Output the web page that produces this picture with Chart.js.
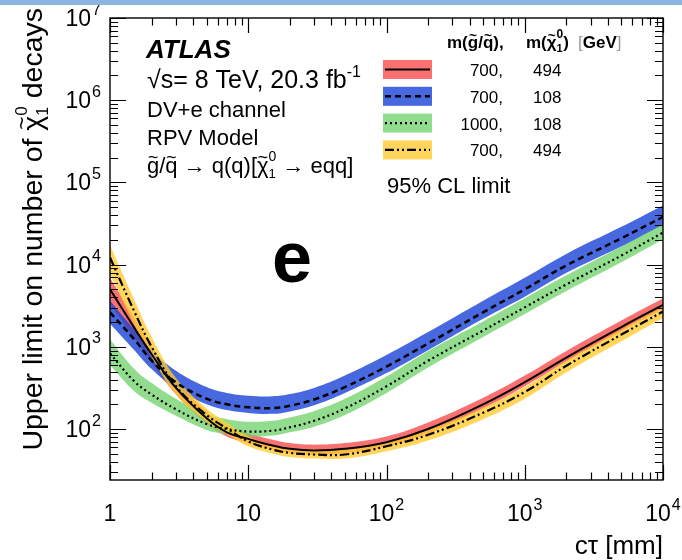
<!DOCTYPE html>
<html>
<head>
<meta charset="utf-8">
<script src="https://cdn.jsdelivr.net/npm/chart.js@4.4.0/dist/chart.umd.min.js"></script>
<style>
  html, body { margin: 0; padding: 0; background: #fff; }
  #wrap { position: relative; width: 682px; height: 560px; overflow: hidden; }
  #topbar { position: absolute; left: 0; top: 0; width: 682px; height: 5px; background: #8db3e2; }
  #chart { position: absolute; left: 0; top: 0; }
</style>
</head>
<body>
<div id="wrap">
  <canvas id="chart" width="682" height="560"></canvas>
  <div id="topbar"></div>
</div>
<script>
// proper decay length c*tau [mm]
const ctau = [1, 1.5, 2, 3, 5, 7, 10, 15, 20, 30, 50, 100, 200, 500, 1000, 2000, 5000, 10000];

// m(g/q) = 700, m(chi) = 494  (red band, solid line)
const lim700_494 = [5010, 1700, 813, 316, 135, 91.2, 75.9, 63.1, 57.5, 55.0, 57.5, 69.2, 100, 200, 372, 741, 1740, 3240];
const lim700_494Hi = [6920, 2240, 1020, 389, 162, 107, 89.1, 74.1, 67.6, 64.6, 67.6, 81.3, 120, 240, 447, 891, 2090, 3890];
const lim700_494Lo = [3310, 1260, 646, 263, 117, 81.3, 67.6, 56.2, 51.3, 49.0, 51.3, 61.7, 89.1, 178, 331, 661, 1550, 2880];

// m(g/q) = 700, m(chi) = 108  (blue band, dashed line)
const lim700_108 = [2630, 1230, 680, 370, 234, 200, 184, 180, 192, 229, 324, 575, 1100, 2630, 5010, 9770, 20900, 38000];
const lim700_108Hi = [3630, 1620, 912, 513, 324, 275, 254, 250, 266, 316, 447, 794, 1510, 3630, 6920, 13500, 28800, 52500];
const lim700_108Lo = [1910, 912, 537, 309, 200, 170, 157, 153, 164, 195, 275, 479, 912, 2190, 4070, 7940, 16600, 30200];

// m(g/q) = 1000, m(chi) = 108  (green band, dotted line)
const lim1000_108 = [832, 380, 263, 174, 115, 100, 93.3, 95.5, 105, 126, 178, 331, 676, 1580, 3020, 5750, 12900, 24500];
const lim1000_108Hi = [1230, 537, 363, 234, 151, 132, 123, 126, 138, 166, 234, 437, 891, 2040, 3890, 7410, 16600, 30900];
const lim1000_108Lo = [603, 288, 209, 145, 97.7, 87.1, 81.3, 83.2, 91.2, 107, 148, 275, 562, 1320, 2510, 4790, 10700, 20400];

// m(g/q) = 700, m(chi) = 494, second model  (yellow band, dash-dot-dot line)
const lim700_494b = [12200, 2690, 1000, 331, 148, 102, 70.8, 56.2, 51.3, 49.0, 49.0, 61.7, 85.1, 158, 282, 589, 1410, 2690];
const lim700_494bHi = [17200, 3720, 1320, 417, 178, 120, 81.3, 64.6, 58.9, 56.2, 56.2, 70.8, 97.7, 182, 324, 676, 1620, 3090];
const lim700_494bLo = [7670, 1860, 759, 263, 123, 87.1, 61.7, 50.1, 45.7, 43.7, 43.7, 53.7, 72.4, 132, 234, 490, 1170, 2240];

// legend masses
const mGluino = ['700,', '700,', '1000,', '700,'];
const mNeutralino = ['494', '108', '108', '494'];

// axis ticks
const xTicks = [1, 10, 100, 1000, 10000];
const xTickLabels = [['1', ''], ['10', ''], ['10', '2'], ['10', '3'], ['10', '4']];
const yTicks = [1e2, 1e3, 1e4, 1e5, 1e6, 1e7];
const yTickLabels = [['10', '2'], ['10', '3'], ['10', '4'], ['10', '5'], ['10', '6'], ['10', '7']];

const FONT = '"Liberation Sans", Arial, Helvetica, sans-serif';

const series = [
  { mid: lim700_494, hi: lim700_494Hi, lo: lim700_494Lo, band: 'rgba(250, 78, 78, 0.8)', dash: [], width: 2 },
  { mid: lim700_108, hi: lim700_108Hi, lo: lim700_108Lo, band: 'rgba(25, 66, 214, 0.8)', dash: [6, 4], width: 2.5 },
  { mid: lim1000_108, hi: lim1000_108Hi, lo: lim1000_108Lo, band: 'rgba(118, 212, 112, 0.8)', dash: [2, 3], width: 2.2 },
  { mid: lim700_494b, hi: lim700_494bHi, lo: lim700_494bLo, band: 'rgba(255, 204, 50, 0.8)', dash: [9, 3, 2, 3, 2, 3], width: 2.2 }
];

function pts(ys) {
  return ctau.map((x, i) => ({ x: x, y: ys[i] }));
}

// bands first (upper edge fills down to lower edge), then the central lines
const datasets = [];
series.forEach((s, i) => {
  const order = 4 - i;
  datasets.push({
    data: pts(s.hi), fill: '+1', backgroundColor: s.band, borderWidth: 0,
    pointRadius: 0, tension: 0.4, order: order
  });
  datasets.push({
    data: pts(s.lo), fill: false, borderWidth: 0,
    pointRadius: 0, tension: 0.4, order: order
  });
});
series.forEach(s => {
  datasets.push({
    data: pts(s.mid), fill: false, borderColor: '#000', borderWidth: s.width,
    borderDash: s.dash, pointRadius: 0, tension: 0.4, order: 0
  });
});

// draws a run of text pieces; returns total width
function drawParts(ctx, x, y, parts, measureOnly) {
  let cx = x;
  parts.forEach(p => {
    ctx.font = p.font;
    const w = ctx.measureText(p.t).width;
    if (!measureOnly) {
      ctx.fillStyle = p.color || '#000';
      ctx.fillText(p.t, cx, y + (p.dy || 0));
      if (p.tilde) {
        const fs = parseFloat(p.font.match(/(\d+(\.\d+)?)px/)[1]);
        const ts = fs * 0.8;
        ctx.font = p.font.replace(/\d+(\.\d+)?px/, ts + 'px');
        const tw = ctx.measureText('~').width;
        ctx.fillText('~', cx + w / 2 - tw / 2, y + (p.dy || 0) - fs * 0.47);
      }
    }
    cx += (p.adv !== undefined ? p.adv : w);
  });
  return cx - x;
}

function drawPower(ctx, cx, y, base, exp, fs, align) {
  ctx.font = fs + 'px ' + FONT;
  const wb = ctx.measureText(base).width;
  ctx.font = (fs * 0.7) + 'px ' + FONT;
  const we = exp ? ctx.measureText(exp).width + 1 : 0;
  const total = wb + we;
  const x0 = align === 'right' ? cx - total : cx - total / 2;
  ctx.textAlign = 'left';
  ctx.fillStyle = '#000';
  ctx.font = fs + 'px ' + FONT;
  ctx.fillText(base, x0, y);
  if (exp) {
    ctx.font = (fs * 0.7) + 'px ' + FONT;
    ctx.fillText(exp, x0 + wb + 1, y - fs * 0.5);
  }
}

const decorations = {
  id: 'decorations',
  afterDraw(chart) {
    const ctx = chart.ctx;
    const xs = chart.scales.x;
    const ys = chart.scales.y;
    const a = chart.chartArea;
    ctx.save();
    ctx.strokeStyle = '#000';
    ctx.lineWidth = 1.4;
    ctx.setLineDash([]);
    ctx.strokeRect(a.left, a.top, a.right - a.left, a.bottom - a.top);

    // ticks on all four sides, pointing inwards
    ctx.lineWidth = 1.2;
    ctx.beginPath();
    for (let e = 0; e <= 4; e++) {
      for (let k = 1; k <= 9; k++) {
        const v = k * Math.pow(10, e);
        if (v < xs.min || v > xs.max) continue;
        const px = Math.round(xs.getPixelForValue(v)) + 0.5;
        const len = k === 1 ? 15 : 7.5;
        ctx.moveTo(px, a.bottom); ctx.lineTo(px, a.bottom - len);
        ctx.moveTo(px, a.top); ctx.lineTo(px, a.top + len);
      }
    }
    for (let e = 1; e <= 7; e++) {
      for (let k = 1; k <= 9; k++) {
        const v = k * Math.pow(10, e);
        if (v < ys.min || v > ys.max) continue;
        const py = Math.round(ys.getPixelForValue(v)) + 0.5;
        const len = k === 1 ? 16 : 8;
        ctx.moveTo(a.left, py); ctx.lineTo(a.left + len, py);
        ctx.moveTo(a.right, py); ctx.lineTo(a.right - len, py);
      }
    }
    ctx.stroke();

    // tick labels
    ctx.textBaseline = 'alphabetic';
    xTicks.forEach((v, i) => {
      drawPower(ctx, xs.getPixelForValue(v), 521, xTickLabels[i][0], xTickLabels[i][1], 23, 'center');
    });
    yTicks.forEach((v, i) => {
      drawPower(ctx, 101, ys.getPixelForValue(v) + 8, yTickLabels[i][0], yTickLabels[i][1], 23, 'right');
    });

    // axis titles
    ctx.textAlign = 'left';
    ctx.font = '26px ' + FONT;
    const xt = 'c\u03C4 [mm]';
    ctx.fillText(xt, a.right - ctx.measureText(xt).width, 554);

    const f28 = '28.5px ' + FONT;
    const yParts = [
      { t: 'Upper limit on number of ', font: f28 },
      { t: '\u03C7', font: f28, tilde: true },
      { t: '1', font: '16px ' + FONT, dy: 6, adv: 0 },
      { t: '0', font: '17px ' + FONT, dy: -15 },
      { t: ' decays', font: f28 }
    ];
    const yw = drawParts(ctx, 0, 0, yParts, true);
    ctx.save();
    ctx.translate(42, 0);
    ctx.rotate(-Math.PI / 2);
    drawParts(ctx, -8 - yw, 0, yParts, false);
    ctx.restore();

    // experiment label block
    const f22 = '22px ' + FONT;
    ctx.fillStyle = '#000';
    ctx.font = 'italic bold 26px ' + FONT;
    ctx.fillText('ATLAS', 146, 58);
    drawParts(ctx, 147, 88, [
      { t: '\u221As= 8 TeV, 20.3 fb', font: '25px ' + FONT },
      { t: '-1', font: '16px ' + FONT, dy: -11 }
    ]);
    ctx.font = f22;
    ctx.fillText('DV+e channel', 147, 117);
    ctx.fillText('RPV Model', 147, 145);
    drawParts(ctx, 147, 173, [
      { t: 'g', font: f22, tilde: true },
      { t: '/', font: f22 },
      { t: 'q', font: f22, tilde: true },
      { t: ' \u2192 q(q)[', font: f22 },
      { t: '\u03C7', font: f22, tilde: true },
      { t: '1', font: '13px ' + FONT, dy: 5, adv: 0 },
      { t: '0', font: '14px ' + FONT, dy: -12 },
      { t: ' \u2192 eqq]', font: f22 }
    ]);

    // legend header
    const b17 = 'bold 17px ' + FONT;
    drawParts(ctx, 447, 48, [
      { t: 'm(', font: b17 },
      { t: 'g', font: b17, tilde: true },
      { t: '/', font: b17 },
      { t: 'q', font: b17, tilde: true },
      { t: '),', font: b17 }
    ]);
    drawParts(ctx, 526, 48, [
      { t: 'm(', font: b17 },
      { t: '\u03C7', font: b17, tilde: true },
      { t: '1', font: 'bold 11px ' + FONT, dy: 4, adv: 0 },
      { t: '0', font: 'bold 12px ' + FONT, dy: -10 },
      { t: ')', font: b17 }
    ]);
    drawParts(ctx, 578, 48, [
      { t: '[', font: '17px ' + FONT, color: '#999' },
      { t: 'GeV', font: b17 },
      { t: ']', font: '17px ' + FONT, color: '#999' }
    ]);

    // legend rows: band swatch with its line style, then the masses
    series.forEach((s, i) => {
      const top = 60 + i * 26.8;
      ctx.fillStyle = s.band;
      ctx.fillRect(383, top, 49, 19);
      ctx.strokeStyle = '#000';
      ctx.lineWidth = s.width;
      ctx.setLineDash(s.dash);
      ctx.beginPath();
      ctx.moveTo(385, top + 9.5);
      ctx.lineTo(430, top + 9.5);
      ctx.stroke();
      ctx.setLineDash([]);
      ctx.fillStyle = '#000';
      ctx.font = '17px ' + FONT;
      const w = ctx.measureText(mGluino[i]).width;
      ctx.fillText(mGluino[i], 503 - w, top + 16);
      ctx.fillText(mNeutralino[i], 533, top + 16);
    });

    ctx.font = f22;
    ctx.fillText('95% CL limit', 387, 193);

    // panel letter
    ctx.font = 'bold 72px ' + FONT;
    const ew = ctx.measureText('e').width;
    ctx.fillText('e', 292 - ew / 2, 282);
    ctx.restore();
  }
};

new Chart(document.getElementById('chart'), {
  type: 'line',
  data: { datasets: datasets },
  options: {
    responsive: false,
    animation: false,
    events: [],
    layout: { padding: { left: 110, right: 19, top: 18, bottom: 80 } },
    scales: {
      x: { type: 'logarithmic', min: 1, max: 10000, display: false },
      y: { type: 'logarithmic', min: 24, max: 1e7, display: false }
    },
    plugins: {
      legend: { display: false },
      tooltip: { enabled: false },
      filler: { drawTime: 'beforeDatasetsDraw' }
    }
  },
  plugins: [decorations]
});
</script>
</body>
</html>
